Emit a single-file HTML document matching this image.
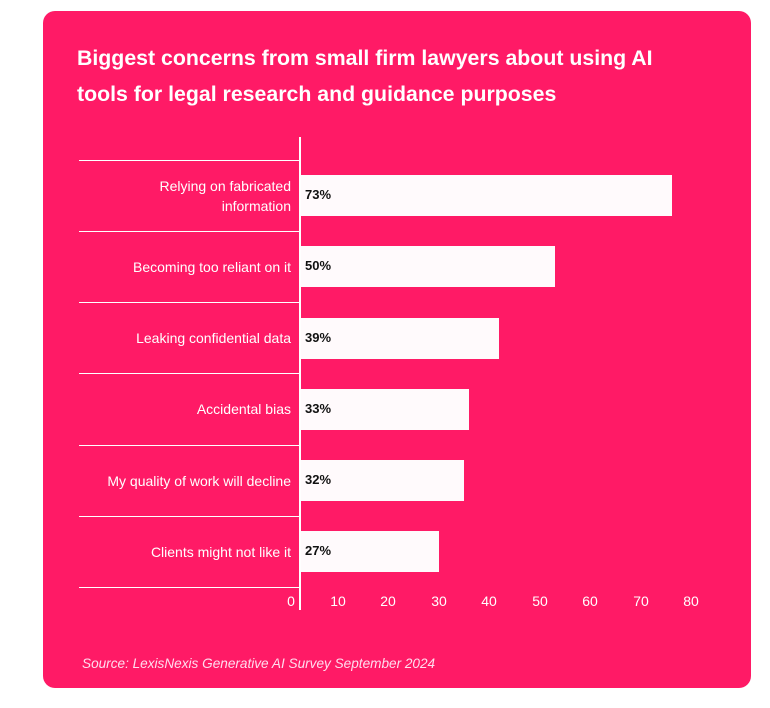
<!DOCTYPE html>
<html><head><style>
body{margin:0;background:#fff;width:770px;height:708px;position:relative;font-family:"Liberation Sans",sans-serif;overflow:hidden}
.card{position:absolute;left:43px;top:11px;width:708px;height:677px;background:#FF1A66;border-radius:12px}
.t{position:absolute;left:77px;top:40px;color:#fff;font-weight:bold;font-size:21.3px;line-height:36px;width:680px;white-space:nowrap}
.sep{position:absolute;left:79px;width:221px;height:1px;background:#fff}
.ax{position:absolute;left:299px;top:137px;width:2px;height:473px;background:#fff}
.bar{position:absolute;left:301px;height:41px;background:#FFFAFC}
.bar span{position:absolute;left:4px;top:12px;font-size:13px;font-weight:bold;color:#111}
.lab{position:absolute;right:479px;color:#fff;font-size:14px;text-align:right;line-height:20px}
.tk{position:absolute;top:593px;color:#fff;font-size:14px;width:30px;margin-left:-15px;text-align:center}
.src{position:absolute;left:82px;top:656px;color:#fde;font-size:13.6px;font-style:italic}
</style></head><body>
<div class="card"></div>
<div class="t">Biggest concerns from small firm lawyers about using AI<br>tools for legal research and guidance purposes</div>
<div class="sep" style="top:160px"></div><div class="sep" style="top:231px"></div><div class="sep" style="top:302px"></div><div class="sep" style="top:373px"></div><div class="sep" style="top:445px"></div><div class="sep" style="top:516px"></div><div class="sep" style="top:587px"></div>
<div class="ax"></div>
<div class="bar" style="top:175px;width:371px"><span>73%</span></div>
<div class="bar" style="top:246px;width:254px"><span>50%</span></div>
<div class="bar" style="top:318px;width:198px"><span>39%</span></div>
<div class="bar" style="top:389px;width:168px"><span>33%</span></div>
<div class="bar" style="top:460px;width:163px"><span>32%</span></div>
<div class="bar" style="top:531px;width:138px"><span>27%</span></div>
<div class="lab" style="top:176px">Relying on fabricated<br>information</div>
<div class="lab" style="top:257px">Becoming too reliant on it</div>
<div class="lab" style="top:328px">Leaking confidential data</div>
<div class="lab" style="top:399px">Accidental bias</div>
<div class="lab" style="top:471px">My quality of work will decline</div>
<div class="lab" style="top:542px">Clients might not like it</div>
<div class="tk" style="left:291px">0</div><div class="tk" style="left:338px">10</div><div class="tk" style="left:388px">20</div><div class="tk" style="left:439px">30</div><div class="tk" style="left:489px">40</div><div class="tk" style="left:540px">50</div><div class="tk" style="left:590px">60</div><div class="tk" style="left:641px">70</div><div class="tk" style="left:691px">80</div>
<div class="src">Source: LexisNexis Generative AI Survey September 2024</div>
</body></html>
